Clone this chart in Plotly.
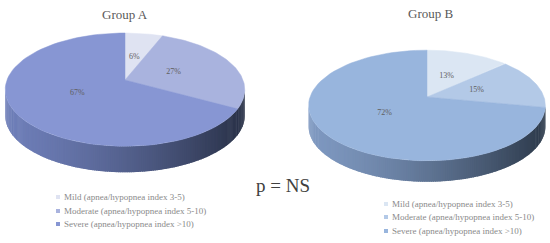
import numpy as np
import plotly.graph_objects as go

# Data
severity = ["Mild (apnea/hypopnea index 3-5)",
            "Moderate (apnea/hypopnea index 5-10)",
            "Severe (apnea/hypopnea index >10)"]
group_a_pct = [6, 27, 67]
group_b_pct = [13, 15, 72]
group_names = ["Group A", "Group B"]
p_text = "p = NS"

SERIF = "Liberation Serif"

# geometry of the two tilted pies (pixel units, y down)
pies = [
    dict(name=group_names[0], vals=group_a_pct, cx=125, cy=80, A=118, B=55, k=0.17, T=26,
         colors=["#dfe3f2", "#a9b3de", "#8796d3"],
         side_l=(110, 126, 184), side_r=(40, 48, 70),
         title_xy=(125, 14), leg_x=58, leg_y=[197, 211, 224]),
    dict(name=group_names[1], vals=group_b_pct, cx=427, cy=97, A=117, B=54, k=0.153, T=21,
         colors=["#dbe6f3", "#b3c9e7", "#98b5dd"],
         side_l=(126, 152, 192), side_r=(44, 57, 74),
         title_xy=(430, 13), leg_x=386, leg_y=[204, 217, 231]),
]


def project(p, t, r=1.0):
    # t in degrees, clockwise from the far (top) side
    u = r * np.sin(np.radians(t))
    v = r * np.cos(np.radians(t))
    w = 1 + p["k"] * v
    return p["cx"] + p["A"] * u / w, p["cy"] - p["B"] * v / w


def rgb(c):
    return "rgb(%d,%d,%d)" % tuple(int(round(x)) for x in c)


fig = go.Figure()

for p in pies:
    # side wall (front arc), drawn as shaded strips
    t0 = np.degrees(np.arccos(-p["k"]))
    t1 = 360 - t0
    edges = np.linspace(t0, t1, 181)
    xl, _ = project(p, t1)
    xr, _ = project(p, t0)
    for a, b in zip(edges[:-1], edges[1:]):
        ts = np.array([a - 0.3, b + 0.3])
        xs, ys = project(p, ts)
        px = np.concatenate([xs, xs[::-1]])
        py = np.concatenate([ys, ys[::-1] + p["T"]])
        f = np.clip((xs.mean() - xl) / (xr - xl), 0, 1) ** 1.4
        col = rgb([l + (r - l) * f for l, r in zip(p["side_l"], p["side_r"])])
        fig.add_trace(go.Scatter(x=px, y=py, mode="lines", fill="toself",
                                 fillcolor=col, line=dict(width=0),
                                 hoverinfo="skip", showlegend=False))

    # top face wedges
    cum = np.concatenate([[0], np.cumsum(p["vals"])]) * 3.6
    for i, v in enumerate(p["vals"]):
        ts = np.linspace(cum[i], cum[i + 1], 80)
        xs, ys = project(p, ts)
        px = np.concatenate([[p["cx"]], xs, [p["cx"]]])
        py = np.concatenate([[p["cy"]], ys, [p["cy"]]])
        fig.add_trace(go.Scatter(x=px, y=py, mode="lines", fill="toself",
                                 fillcolor=p["colors"][i],
                                 line=dict(color=p["colors"][i], width=0.5),
                                 hoverinfo="skip", showlegend=False))

    # percentage labels
    mids = (cum[:-1] + cum[1:]) / 2
    lx, ly = project(p, mids, 0.45)
    fig.add_trace(go.Scatter(x=lx, y=ly, mode="text",
                             text=[f"{v}%" for v in p["vals"]],
                             textfont=dict(family=SERIF, size=8, color="#606060"),
                             hoverinfo="skip", showlegend=False))

    # legend markers + text
    fig.add_trace(go.Scatter(x=[p["leg_x"]] * 3, y=p["leg_y"], mode="markers",
                             marker=dict(symbol="square", size=4, color=p["colors"]),
                             hoverinfo="skip", showlegend=False))
    for lab, yy in zip(severity, p["leg_y"]):
        fig.add_annotation(x=p["leg_x"] + 4, y=yy, text=lab, showarrow=False,
                           xanchor="left", yanchor="middle",
                           font=dict(family=SERIF, size=9, color="#8a8a8a"))

    fig.add_annotation(x=p["title_xy"][0], y=p["title_xy"][1], text=p["name"],
                       showarrow=False, xanchor="center", yanchor="middle",
                       font=dict(family=SERIF, size=13, color="#595959"))

fig.add_annotation(x=283, y=185, text=p_text, showarrow=False,
                   xanchor="center", yanchor="middle",
                   font=dict(family=SERIF, size=19, color="#404040"))

fig.update_layout(
    width=550, height=243,
    margin=dict(l=0, r=0, t=0, b=0),
    paper_bgcolor="white", plot_bgcolor="white",
    xaxis=dict(range=[0, 550], visible=False, fixedrange=True),
    yaxis=dict(range=[243, 0], visible=False, fixedrange=True),
    showlegend=False,
)

fig.write_html("out.html", config={"displayModeBar": False},
               post_script="document.body.style.margin='0px';")
